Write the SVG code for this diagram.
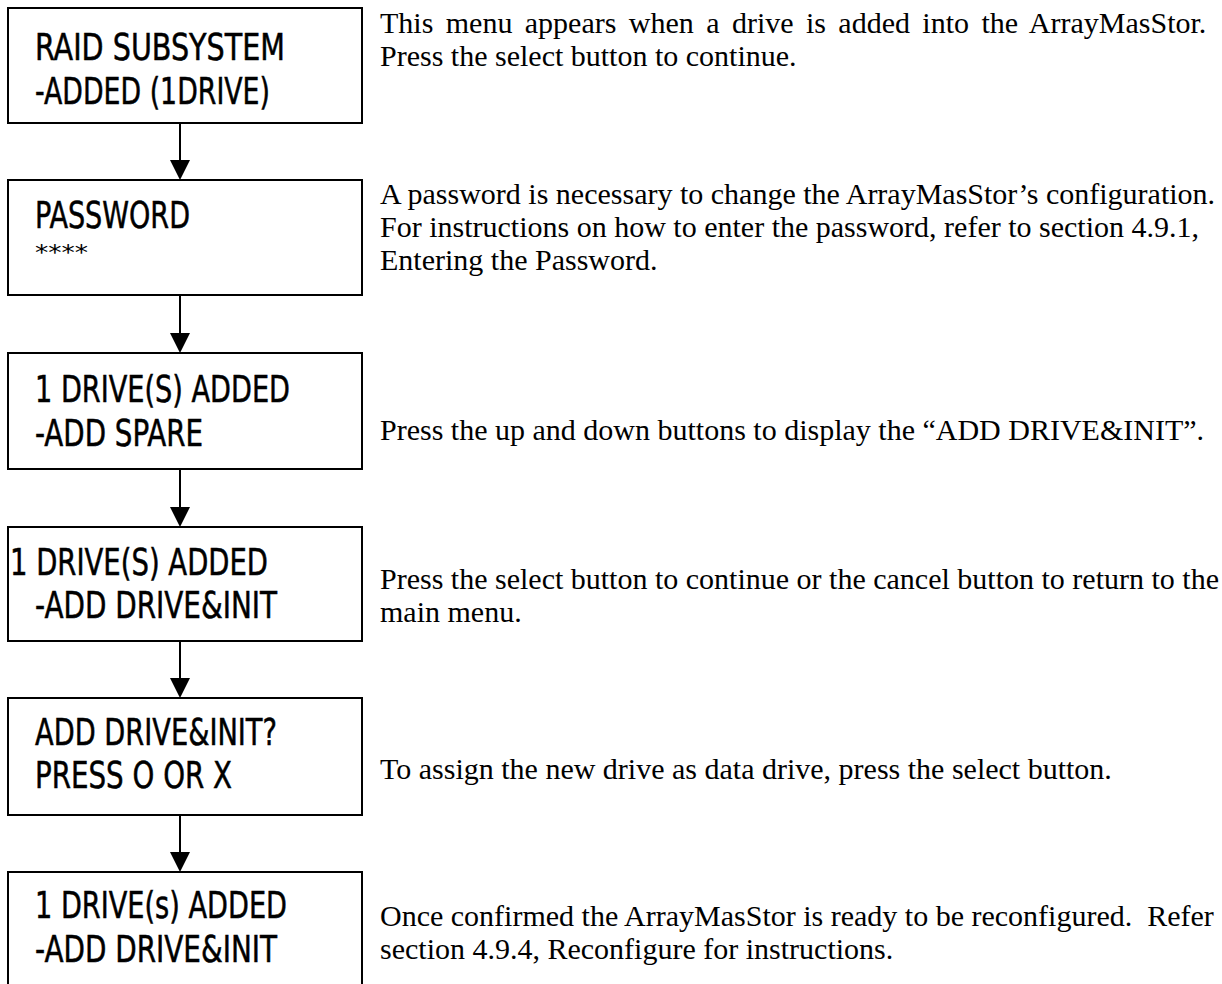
<svg xmlns="http://www.w3.org/2000/svg" width="1222" height="984" viewBox="0 0 1222 984">
<style>
.box{fill:#fff;stroke:#000;stroke-width:2}
.lcd{font-family:"DejaVu Sans Condensed","DejaVu Sans",sans-serif;font-stretch:condensed;font-size:38px;fill:#000;stroke:#000;stroke-width:0.5}
.small{font-family:"DejaVu Sans Condensed","DejaVu Sans",sans-serif;font-size:22px;fill:#000}
.desc{font-family:"Liberation Serif","Times New Roman",serif;font-size:30px;fill:#000}
.conn{stroke:#000;stroke-width:2;fill:none}
</style>
<rect width="1222" height="984" fill="#fff"/>
<g id="connectors">
<line class="conn" x1="180" y1="123" x2="180" y2="162"/><polygon points="170,160 190,160 180,180"/>
<line class="conn" x1="180" y1="295" x2="180" y2="335"/><polygon points="170,333 190,333 180,353"/>
<line class="conn" x1="180" y1="469" x2="180" y2="509"/><polygon points="170,507 190,507 180,527"/>
<line class="conn" x1="180" y1="641" x2="180" y2="680"/><polygon points="170,678 190,678 180,698"/>
<line class="conn" x1="180" y1="815" x2="180" y2="854"/><polygon points="170,852 190,852 180,872"/>
</g>
<g id="n1">
<rect class="box" x="8" y="8" width="354" height="115"/>
<text class="lcd" x="35" y="60" textLength="250" lengthAdjust="spacingAndGlyphs">RAID SUBSYSTEM</text>
<text class="lcd" x="35" y="104" textLength="235" lengthAdjust="spacingAndGlyphs">-ADDED (1DRIVE)</text>
<text class="desc" x="380" y="33" word-spacing="4.9">This menu appears when a drive is added into the ArrayMasStor.</text>
<text class="desc" x="380" y="66">Press the select button to continue.</text>
</g>
<g id="n2">
<rect class="box" x="8" y="180" width="354" height="115"/>
<text class="lcd" x="35" y="228" textLength="155" lengthAdjust="spacingAndGlyphs">PASSWORD</text>
<text class="small" x="35" y="260" textLength="53" lengthAdjust="spacingAndGlyphs">****</text>
<text class="desc" x="380" y="204">A password is necessary to change the ArrayMasStor’s configuration.</text>
<text class="desc" x="380" y="237">For instructions on how to enter the password, refer to section 4.9.1,</text>
<text class="desc" x="380" y="270">Entering the Password.</text>
</g>
<g id="n3">
<rect class="box" x="8" y="353" width="354" height="116"/>
<text class="lcd" x="35" y="402" textLength="255" lengthAdjust="spacingAndGlyphs">1 DRIVE(S) ADDED</text>
<text class="lcd" x="35" y="446" textLength="168" lengthAdjust="spacingAndGlyphs">-ADD SPARE</text>
<text class="desc" x="380" y="440">Press the up and down buttons to display the “ADD DRIVE&amp;INIT”.</text>
</g>
<g id="n4">
<rect class="box" x="8" y="527" width="354" height="114"/>
<text class="lcd" x="10" y="575" textLength="258" lengthAdjust="spacingAndGlyphs">1 DRIVE(S) ADDED</text>
<text class="lcd" x="35" y="618" textLength="242" lengthAdjust="spacingAndGlyphs">-ADD DRIVE&amp;INIT</text>
<text class="desc" x="380" y="589">Press the select button to continue or the cancel button to return to the</text>
<text class="desc" x="380" y="622">main menu.</text>
</g>
<g id="n5">
<rect class="box" x="8" y="698" width="354" height="117"/>
<text class="lcd" x="35" y="745" textLength="242" lengthAdjust="spacingAndGlyphs">ADD DRIVE&amp;INIT?</text>
<text class="lcd" x="35" y="788" textLength="197" lengthAdjust="spacingAndGlyphs">PRESS O OR X</text>
<text class="desc" x="380" y="779">To assign the new drive as data drive, press the select button.</text>
</g>
<g id="n6">
<rect class="box" x="8" y="872" width="354" height="130"/>
<text class="lcd" x="35" y="918" textLength="252" lengthAdjust="spacingAndGlyphs">1 DRIVE(s) ADDED</text>
<text class="lcd" x="35" y="962" textLength="242" lengthAdjust="spacingAndGlyphs">-ADD DRIVE&amp;INIT</text>
<text class="desc" x="380" y="926" xml:space="preserve">Once confirmed the ArrayMasStor is ready to be reconfigured.  Refer</text>
<text class="desc" x="380" y="959">section 4.9.4, Reconfigure for instructions.</text>
</g>
</svg>
